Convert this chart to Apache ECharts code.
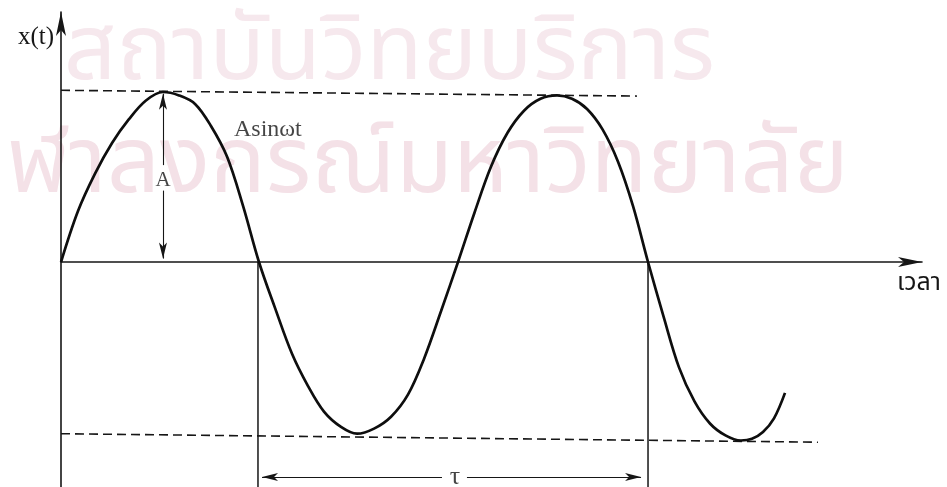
<!DOCTYPE html>
<html>
<head>
<meta charset="utf-8">
<script src="https://cdn.jsdelivr.net/npm/echarts@6/dist/echarts.min.js"></script>
<style>
  html, body { margin: 0; padding: 0; background: #ffffff; }
  #chart { width: 947px; height: 487px; }
</style>
</head>
<body>
<div id="chart"></div>
<script>
// x(t) = A sin(ωt): phase ωt in degrees, value in units of the amplitude A
const wavePhase = [
  0, 15.6, 31.2, 46.8, 62.3, 77.9, 93.5,
  108.2, 122.9, 137.5, 152.2, 166.9, 181.5,
  196.2, 211.8, 226.5, 241.1, 256.7, 271.4,
  287.0, 302.6, 318.1, 332.8, 348.4, 364.0,
  379.1, 394.2, 409.4, 424.5, 439.6, 454.8,
  468.5, 482.3, 496.5, 510.7, 524.4, 538.2,
  552.4, 566.6, 580.8, 595.0, 609.2, 623.4,
  633.5, 643.6, 653.7, 663.8];
const waveValue = [
  0, 0.30, 0.52, 0.70, 0.84, 0.95, 1.00,
  0.98, 0.93, 0.80, 0.62, 0.33, 0,
  -0.27, -0.54, -0.73, -0.88, -0.97, -1.01,
  -0.98, -0.91, -0.78, -0.57, -0.29, 0,
  0.29, 0.56, 0.76, 0.89, 0.96, 0.98,
  0.96, 0.90, 0.78, 0.59, 0.33, 0,
  -0.32, -0.62, -0.82, -0.95, -1.02, -1.05,
  -1.04, -1.00, -0.92, -0.77];

// dashed guides at +A and -A (start and end points)
const crestGuide = [[0, 1.01], [528, 0.976]];
const troughGuide = [[0, -1.01], [694, -1.06]];

// zero crossings that bound one period τ
const periodStart = 180.6;
const periodEnd = 538.2;

// where the amplitude A and the period τ are dimensioned
const amplitudePhase = 93.5;
const periodLevel = -1.265;

// texts
const yAxisTitle = 'x(t)';
const xAxisTitle = 'เวลา';
const curveTitle = 'Asinωt';
const amplitudeTitle = 'A';
const periodTitle = 'τ';
const stampLines = ['สถาบันวิทยบริการ', 'ฬาลงกรณ์มหาวิทยาลัย'];

const ink = '#161616';
const serif = '"Liberation Serif", "DejaVu Serif", serif';
const thai = '"Noto Sans Thai", "Noto Sans Thai Looped", "Noto Sans", sans-serif';

const Y_MIN = -1.3235, Y_MAX = 1.4706, X_MAX = 789.4;

const chart = echarts.init(document.getElementById('chart'), null, { renderer: 'canvas' });

const axisLine = {
  show: true,
  onZero: true,
  symbol: ['none', 'arrow'],
  symbolSize: [7.5, 24],
  lineStyle: { color: ink, width: 1.6 }
};

function guideSeries(points, style) {
  return {
    type: 'line',
    data: points,
    symbol: 'none',
    silent: true,
    lineStyle: style,
    z: 1
  };
}

function arrowPiece(from, to, headAtStart, headAtEnd) {
  return [
    { coord: from, symbol: headAtStart ? 'arrow' : 'none', symbolSize: [6, 16] },
    { coord: to, symbol: headAtEnd ? 'arrow' : 'none', symbolSize: [6, 16] }
  ];
}

function caption(point, text, size, position) {
  return {
    type: 'scatter',
    data: [point],
    symbolSize: 0,
    silent: true,
    z: 4,
    label: {
      show: true, position: position, distance: 0,
      formatter: text, fontFamily: serif, fontSize: size, color: ink
    }
  };
}

const option = {
  animation: false,
  backgroundColor: '#ffffff',
  grid: { left: 61, right: 25, top: 12, bottom: 0, containLabel: false },
  xAxis: {
    type: 'value', min: 0, max: X_MAX,
    axisLine: axisLine,
    axisTick: { show: false }, axisLabel: { show: false }, splitLine: { show: false },
    name: xAxisTitle, nameLocation: 'end', nameGap: -25,
    nameTextStyle: {
      fontFamily: thai, fontSize: 25, color: ink,
      align: 'left', verticalAlign: 'top', padding: [10, 0, 0, 0]
    }
  },
  yAxis: {
    type: 'value', min: Y_MIN, max: Y_MAX,
    axisLine: axisLine,
    axisTick: { show: false }, axisLabel: { show: false }, splitLine: { show: false },
    name: yAxisTitle, nameLocation: 'end', nameGap: -25,
    nameTextStyle: {
      fontFamily: serif, fontSize: 25, color: ink,
      align: 'right', verticalAlign: 'middle', padding: [0, 7, 0, 0]
    }
  },
  graphic: [
    {
      type: 'text', x: 715, y: 14, z: -5, silent: true,
      style: { text: stampLines[0], font: '92px ' + thai, fill: '#f6e8ed', textAlign: 'right', textVerticalAlign: 'top' }
    },
    {
      type: 'text', x: 7, y: 127, z: -5, silent: true,
      style: { text: stampLines[1], font: '93px ' + thai, fill: '#f4e1e7', textAlign: 'left', textVerticalAlign: 'top' }
    }
  ],
  series: [
    guideSeries(crestGuide, { color: ink, width: 1.6, type: [9, 5] }),
    guideSeries(troughGuide, { color: ink, width: 1.6, type: [9, 5] }),
    guideSeries([[periodStart, 0], [periodStart, Y_MIN]], { color: ink, width: 1.5 }),
    guideSeries([[periodEnd, 0], [periodEnd, Y_MIN]], { color: ink, width: 1.5 }),
    {
      type: 'line',
      data: wavePhase.map((p, i) => [p, waveValue[i]]),
      symbol: 'none',
      smooth: 0.35,
      silent: true,
      lineStyle: { color: '#0e0e0e', width: 2.7 },
      z: 3
    },
    caption([158.6, 0.776], curveTitle, 24, 'right'),
    caption([amplitudePhase, 0.48], amplitudeTitle, 21, 'inside'),
    caption([361.2, periodLevel], periodTitle, 26, 'inside'),
    {
      // dimension arrows for A and τ
      type: 'line',
      data: [],
      silent: true,
      markLine: {
        silent: true,
        animation: false,
        label: { show: false },
        lineStyle: { color: ink, width: 1.1, type: 'solid' },
        data: [
          arrowPiece([amplitudePhase, 0.99], [amplitudePhase, 0.57], true, false),
          arrowPiece([amplitudePhase, 0.42], [amplitudePhase, 0.02], false, true),
          arrowPiece([184.3, periodLevel], [349.3, periodLevel], true, false),
          arrowPiece([372.2, periodLevel], [531.8, periodLevel], false, true)
        ]
      }
    }
  ]
};

chart.setOption(option);
</script>
</body>
</html>
